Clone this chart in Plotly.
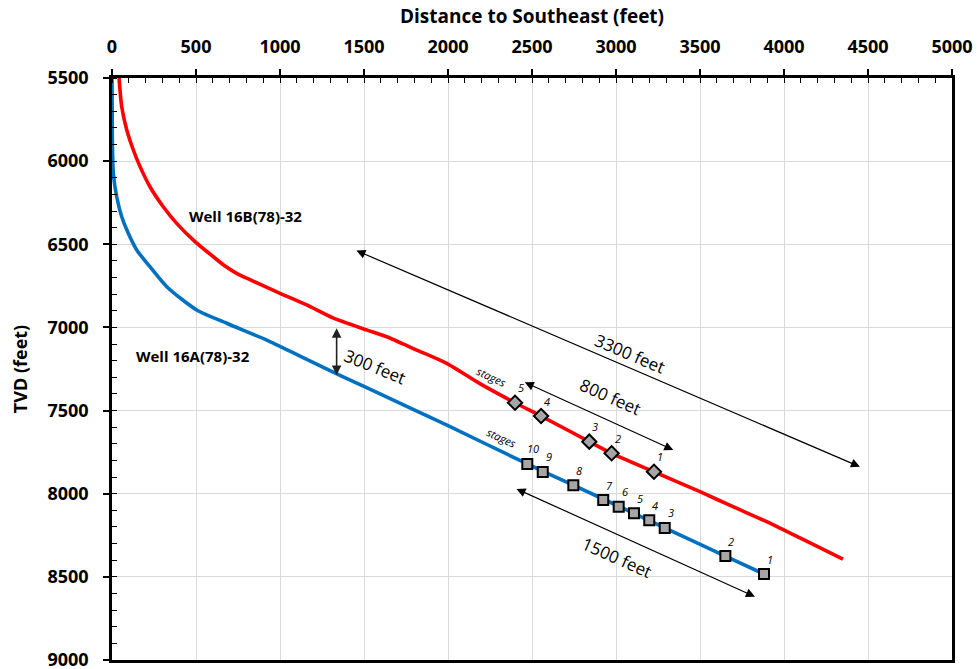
import plotly.graph_objects as go

# ---- Data ----
# Well 16B(78)-32 trajectory (red)
red_x = [42, 58, 88, 127, 167, 226, 305, 385, 494, 603, 673, 744, 833, 1000, 1159, 1315, 1516, 1635,
         1814, 1992, 2190, 2399, 2554, 2841, 2974, 3226, 3500, 3696, 3897, 4095, 4351]
red_y = [5500, 5673, 5813, 5933, 6033, 6154, 6274, 6374, 6484, 6575, 6631, 6676, 6718, 6795, 6865, 6943, 7015, 7056,
         7136, 7216, 7338, 7453, 7533, 7687, 7757, 7868, 7988, 8078, 8168, 8266, 8394]

# Well 16A(78)-32 trajectory (blue)
blue_x = [0, 1, 2, 8, 28, 58, 97, 147, 226, 326, 504, 683, 921, 1119, 1357, 1516, 1994,
          2472, 2746, 3107, 3290, 3651, 3881]
blue_y = [5500, 5700, 5873, 6073, 6214, 6334, 6434, 6534, 6635, 6755, 6895, 6975, 7076, 7172, 7288, 7362, 7588,
          7821, 7949, 8118, 8206, 8375, 8483]

# Stage locations
red_stage_x = [2399, 2554, 2841, 2974, 3226]
red_stage_y = [7453, 7533, 7687, 7757, 7868]
red_stage_lbl = ["5", "4", "3", "2", "1"]

blue_stage_x = [2472, 2564, 2746, 2924, 3016, 3107, 3198, 3290, 3651, 3881]
blue_stage_y = [7821, 7869, 7949, 8038, 8078, 8118, 8160, 8206, 8375, 8483]
blue_stage_lbl = ["10", "9", "8", "7", "6", "5", "4", "3", "2", "1"]

# Distance annotations: (start x, start y, end x, end y)
arrow_labels = ["3300 feet", "800 feet", "1500 feet", "300 feet"]
arrow_x0 = [1446, 2448, 2399, 1337]
arrow_y0 = [6534, 7326, 7967, 6996]
arrow_x1 = [4452, 3341, 3827, 1337]
arrow_y1 = [7838, 7737, 8619, 7286]
label_x = [3083, 2964, 3006, 1565]
label_y = [7154, 7418, 8381, 7232]
label_angle = [23, 24, 24, 22]

well_names = ["Well 16B(78)-32", "Well 16A(78)-32"]
well_lbl_x = [792, 482]
well_lbl_y = [6330, 7172]

x_ticks = list(range(0, 5001, 500))
y_ticks = list(range(5500, 9001, 500))

FONT = "Open Sans"
RED = "#ff0000"
BLUE = "#0070c0"

fig = go.Figure()
fig.add_trace(go.Scatter(x=red_x, y=red_y, mode="lines",
                         line=dict(color=RED, width=3.6, shape="spline", smoothing=0.7),
                         hoverinfo="skip", showlegend=False))
fig.add_trace(go.Scatter(x=blue_x, y=blue_y, mode="lines",
                         line=dict(color=BLUE, width=3.6, shape="spline", smoothing=0.7),
                         hoverinfo="skip", showlegend=False))
fig.add_trace(go.Scatter(x=red_stage_x, y=red_stage_y, mode="markers",
                         marker=dict(symbol="diamond", size=11, color="#a6a6a6",
                                     line=dict(color="black", width=2)),
                         showlegend=False))
fig.add_trace(go.Scatter(x=blue_stage_x, y=blue_stage_y, mode="markers",
                         marker=dict(symbol="square", size=10, color="#a6a6a6",
                                     line=dict(color="black", width=2)),
                         showlegend=False))

ann = []
SMALL = dict(family=FONT, size=11, color="black", style="italic")
for sx, sy, lb in zip(red_stage_x, red_stage_y, red_stage_lbl):
    ann.append(dict(x=sx, y=sy, text=lb, showarrow=False, xshift=6, yshift=15, font=SMALL))
for sx, sy, lb in zip(blue_stage_x, blue_stage_y, blue_stage_lbl):
    ann.append(dict(x=sx, y=sy, text=lb, showarrow=False, xshift=6, yshift=15, font=SMALL))
ann.append(dict(x=red_stage_x[0], y=red_stage_y[0], text="stages", showarrow=False,
                xshift=-24, yshift=26, textangle=25, font=SMALL))
ann.append(dict(x=blue_stage_x[0], y=blue_stage_y[0], text="stages", showarrow=False,
                xshift=-26, yshift=26, textangle=25, font=SMALL))

for i in range(len(arrow_labels)):
    w = 1.6 if i == 3 else 1.2
    ann.append(dict(x=arrow_x1[i], y=arrow_y1[i], ax=arrow_x0[i], ay=arrow_y0[i],
                    xref="x", yref="y", axref="x", ayref="y", text="",
                    showarrow=True, arrowhead=2, arrowside="end+start",
                    arrowsize=1.5 if i < 3 else 1.2, arrowwidth=w,
                    arrowcolor="#222222" if i == 3 else "black",
                    standoff=0, startstandoff=0))
    ann.append(dict(x=label_x[i], y=label_y[i], text=arrow_labels[i], showarrow=False,
                    textangle=label_angle[i],
                    font=dict(family=FONT, size=17, color="black")))

for nm, wx, wy in zip(well_names, well_lbl_x, well_lbl_y):
    ann.append(dict(x=wx, y=wy, text="<b>" + nm + "</b>", showarrow=False,
                    font=dict(family=FONT, size=15, color="black")))

fig.update_layout(
    width=979, height=669,
    margin=dict(l=112, r=27, t=78, b=9, autoexpand=False),
    paper_bgcolor="white", plot_bgcolor="white",
    annotations=ann,
    font=dict(family=FONT, color="black"),
)
fig.update_xaxes(
    side="top", range=[0, 5000], tickvals=x_ticks,
    ticktext=["<b>%d</b>" % v for v in x_ticks],
    tickfont=dict(family=FONT, size=18, color="black"),
    title=dict(text="<b>Distance to Southeast (feet)</b>", font=dict(family=FONT, size=19, color="black"),
               standoff=6),
    showline=True, linecolor="black", linewidth=2.5, mirror=True,
    ticks="outside", ticklen=6, tickwidth=1.5, tickcolor="black",
    showgrid=True, gridcolor="#d9d9d9", gridwidth=1,
    minor=dict(dtick=100, tick0=0, ticks="inside", ticklen=5, tickcolor="black", tickwidth=1.2, showgrid=False),
    zeroline=False, ticklabelstandoff=9, ticklabeloverflow="allow", automargin=False,
)
fig.update_yaxes(
    range=[9000, 5500], tickvals=y_ticks,
    ticktext=["<b>%d</b>" % v for v in y_ticks],
    tickfont=dict(family=FONT, size=18, color="black"),
    title=dict(text="<b>TVD (feet)</b>", font=dict(family=FONT, size=18, color="black"), standoff=16),
    showline=True, linecolor="black", linewidth=2.5, mirror=True,
    ticks="outside", ticklen=6, tickwidth=1.5, tickcolor="black",
    showgrid=True, gridcolor="#d9d9d9", gridwidth=1,
    minor=dict(dtick=100, tick0=5500, ticks="inside", ticklen=5, tickcolor="black", tickwidth=1.2, showgrid=False),
    zeroline=False, ticklabelstandoff=11, ticklabeloverflow="allow", automargin=False,
)

# Remove the browser's default body margin so the figure fills the 979x669 window.
post = "document.body.style.margin='0';"
fig.write_html("out.html", config={"displayModeBar": False}, post_script=post)
